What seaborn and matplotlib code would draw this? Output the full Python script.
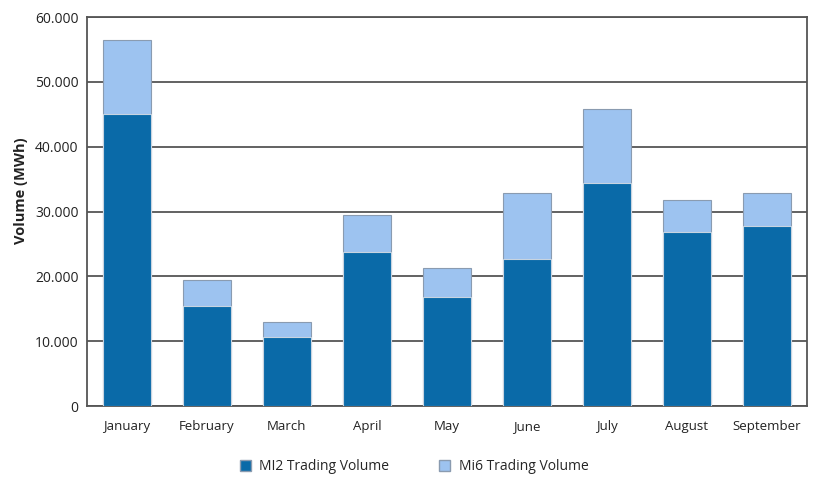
import matplotlib
matplotlib.use("Agg")
import matplotlib.pyplot as plt
import seaborn as sns
import pandas as pd
from matplotlib.patches import Patch
from matplotlib.ticker import FuncFormatter

# data (MWh)
months = ["January", "February", "March", "April", "May",
          "June", "July", "August", "September"]
mi2_volume = [45100, 15400, 10700, 23800, 16800, 22700, 34400, 26800, 27700]
mi6_volume = [11400, 4100, 2200, 5700, 4500, 10100, 11400, 4900, 5100]

df = pd.DataFrame({
    "month": months,
    "MI2": mi2_volume,
    "Mi6": mi6_volume,
})
df["total"] = df["MI2"] + df["Mi6"]

dark_blue = "#0a6aa8"
light_blue = "#9dc3f0"

sns.set_theme(style="white")
plt.rcParams["font.family"] = ["Open Sans", "DejaVu Sans"]

fig = plt.figure(figsize=(8.13, 4.78), dpi=100)
ax = fig.add_axes([0.107, 0.1506, 0.8856, 0.8138])

# stacked bars: draw totals first, then the MI2 part over them
sns.barplot(data=df, x="month", y="total", color=light_blue, width=0.6,
            edgecolor="#8a9bb0", linewidth=0.8, saturation=1, ax=ax, zorder=3)
sns.barplot(data=df, x="month", y="MI2", color=dark_blue, width=0.6,
            edgecolor="#c8d4e0", linewidth=0.8, saturation=1, ax=ax, zorder=4)

ax.set_ylim(0, 60000)
ax.set_xlim(-0.5, len(months) - 0.5)
ax.set_yticks(range(0, 60001, 10000))
ax.yaxis.set_major_formatter(FuncFormatter(
    lambda v, _: "0" if v == 0 else f"{int(v):,}".replace(",", ".")))
ax.grid(axis="y", color="#555555", linewidth=1.3, zorder=0)
ax.set_axisbelow(True)
for s in ax.spines.values():
    s.set_visible(True)
    s.set_color("#555555")
    s.set_linewidth(1.3)

ax.tick_params(axis="both", length=0, labelsize=9.5, colors="#222222")
ax.tick_params(axis="y", labelsize=10, pad=6)
ax.tick_params(axis="x", pad=10)
ax.set_xlabel("")
ax.set_ylabel("Volume (MWh)", fontsize=10.5, fontweight="bold", color="#222222")
ax.yaxis.set_label_coords(-0.082, 0.554)

handles = [Patch(facecolor=dark_blue, edgecolor="#8a9bb0", label="MI2 Trading Volume"),
           Patch(facecolor=light_blue, edgecolor="#8a9bb0", label="Mi6 Trading Volume")]
fig.legend(handles=handles, loc="center", bbox_to_anchor=(414 / 813, 1 - 467 / 478),
           ncol=2, frameon=False, fontsize=10, handlelength=0.8, handleheight=0.8,
           columnspacing=3.6, handletextpad=0.6)

fig.savefig("out.png", dpi=100)
